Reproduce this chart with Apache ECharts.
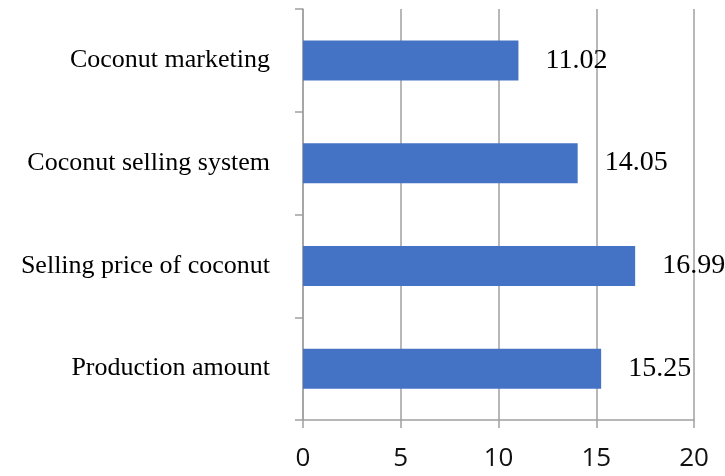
<!DOCTYPE html>
<html>
<head>
<meta charset="utf-8">
<script src="https://cdn.jsdelivr.net/npm/echarts@6/dist/echarts.min.js"></script>
<style>html,body{margin:0;padding:0;background:#fff;}#chart{width:725px;height:476px;}</style>
</head>
<body>
<div id="chart"></div>
<script>
const categories = ["Coconut marketing", "Coconut selling system", "Selling price of coconut", "Production amount"];
const values = [11.02, 14.05, 16.99, 15.25];
const valueLabels = ["11.02", "14.05", "16.99", "15.25"];
const xTicks = [0, 5, 10, 15, 20];

const chart = echarts.init(document.getElementById('chart'), null, {renderer: 'canvas'});
const gridColor = '#a0a0a0';
chart.setOption({
  animation: false,
  backgroundColor: '#ffffff',
  grid: {left: 303, right: 31, top: 9, bottom: 56, containLabel: false},
  xAxis: {
    type: 'value',
    min: xTicks[0],
    max: xTicks[xTicks.length - 1],
    interval: 5,
    axisLine: {show: true, lineStyle: {color: gridColor, width: 1.5}},
    axisTick: {show: true, length: 8, lineStyle: {color: gridColor, width: 1.5}},
    splitLine: {show: true, lineStyle: {color: gridColor, width: 1.5}},
    axisLabel: {
      fontFamily: 'Open Sans',
      fontSize: 26,
      color: '#111',
      margin: 26
    }
  },
  yAxis: {
    type: 'category',
    data: categories,
    inverse: true,
    axisLine: {show: true, lineStyle: {color: gridColor, width: 1.5}},
    axisTick: {show: true, length: 8, lineStyle: {color: gridColor, width: 1.5}},
    axisLabel: {
      fontFamily: 'Liberation Serif',
      fontSize: 26,
      color: '#000',
      margin: 33
    }
  },
  series: [{
    type: 'bar',
    data: values,
    barWidth: 40,
    itemStyle: {color: '#4472C4'},
    label: {
      show: true,
      position: 'right',
      distance: 27,
      fontFamily: 'Liberation Serif',
      fontSize: 28,
      color: '#000',
      formatter: p => valueLabels[p.dataIndex]
    }
  }]
});
</script>
</body>
</html>
